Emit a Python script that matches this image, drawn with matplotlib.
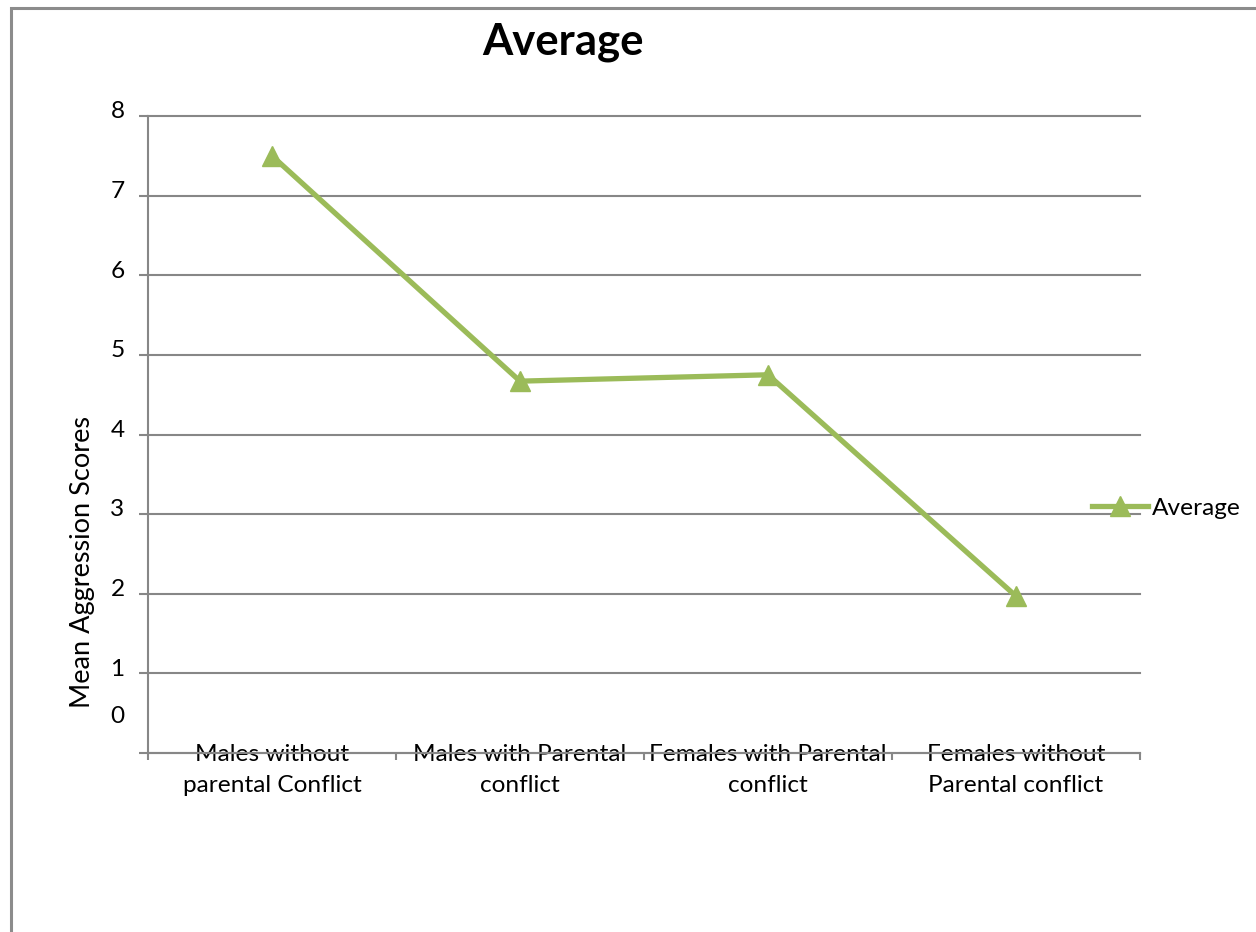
import matplotlib
matplotlib.use("Agg")
import matplotlib.pyplot as plt
from matplotlib.patches import Rectangle

plt.rcParams['font.family'] = ['Lato', 'DejaVu Sans']

# data
groups = ['Males without\nparental Conflict', 'Males with Parental\nconflict',
          'Females with Parental\nconflict', 'Females without\nParental conflict']
avg_scores = [7.5, 4.67, 4.75, 1.97]
y_ticks = [0, 1, 2, 3, 4, 5, 6, 7, 8]

green = '#9BBB59'
gray = '#878787'
fs = 17.6

fig = plt.figure(figsize=(12.56, 9.32), dpi=100, facecolor='white')
ax = fig.add_axes([148 / 1256, 1 - 753 / 932, (1140 - 148) / 1256, (753 - 116) / 932])

x = list(range(len(groups)))
ax.plot(x, avg_scores, color=green, lw=3.8, marker='^', ms=14, mec=green,
        mfc=green, label='Average', zorder=3, clip_on=False)

ax.set_xlim(-0.5, len(groups) - 0.5)
ax.set_ylim(0, 8)

# grid + spines
ax.set_yticks(y_ticks)
ax.set_yticklabels([])
ax.yaxis.grid(True, color=gray, lw=1.5, clip_on=False)
ax.set_axisbelow(True)
for s in ['top', 'right']:
    ax.spines[s].set_visible(False)
for s in ['left', 'bottom']:
    ax.spines[s].set_color(gray)
    ax.spines[s].set_linewidth(1.5)
ax.tick_params(axis='y', length=6.5, width=1.5, color=gray, direction='out')

# y labels sit a bit above their gridlines, zero floats up
for v in y_ticks:
    yy = v if v > 0 else 0.4
    ax.annotate(str(v), xy=(0, yy), xycoords=('axes fraction', 'data'),
                xytext=(-22, 3), textcoords='offset points',
                ha='center', va='center', fontsize=fs)

# category labels on the axis, boundary ticks below
ax.set_xticks(x)
ax.set_xticklabels(groups, fontsize=fs, linespacing=1.6)
ax.tick_params(axis='x', which='major', length=0, pad=-6.5)
ax.set_xticks([i - 0.5 for i in range(len(groups) + 1)], minor=True)
ax.tick_params(axis='x', which='minor', length=5, width=1.5, color=gray, direction='out')

fig.text(83 / 1256, 1 - 562 / 932, 'Mean Aggression Scores', rotation=90,
         ha='center', va='center', fontsize=19.5)
fig.text(563 / 1256, 1 - 55 / 932, 'Average', ha='center', va='baseline',
         fontsize=31.4, fontweight='bold')

leg = fig.legend(loc='center left', bbox_to_anchor=(1092 / 1256, 1 - 508 / 932),
                 frameon=False, fontsize=fs, handlelength=2.3, handletextpad=0.15,
                 borderpad=0, borderaxespad=0)

# outer chart border (only left and top visible in the crop)
fig.patches.append(Rectangle((11 / 1256, -0.1), 1.2, 1.1 - 8 / 932,
                             transform=fig.transFigure, fill=False,
                             edgecolor='#8c8c8c', lw=2.2))

fig.savefig('out.png', dpi=100)
